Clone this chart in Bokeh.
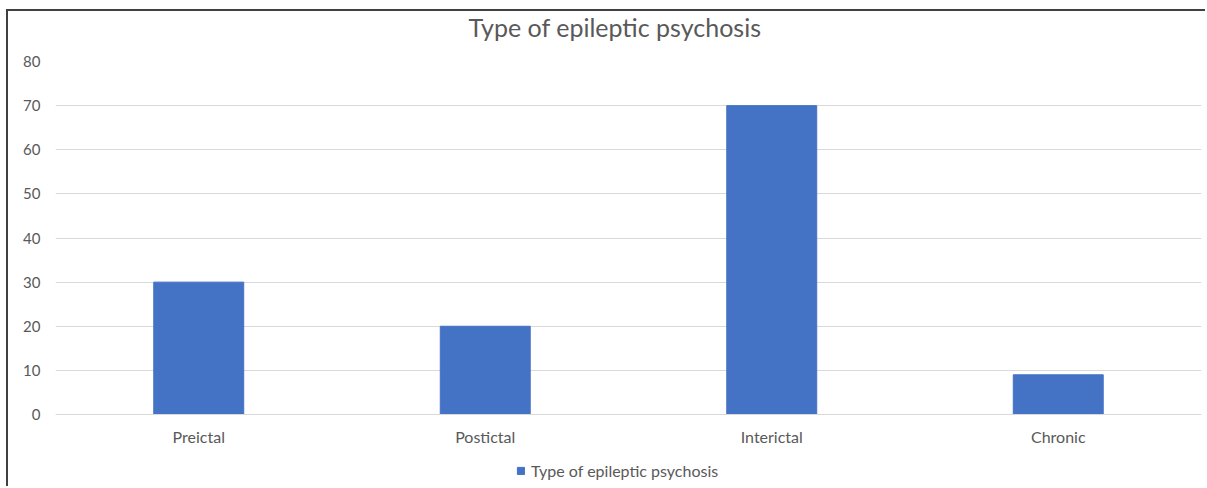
from bokeh.plotting import figure
from bokeh.models import FactorRange, Range1d, Legend, LegendItem, Title, ColumnDataSource
from bokeh.embed import file_html
from bokeh.resources import INLINE

categories = ["Preictal", "Postictal", "Interictal", "Chronic"]
values = [30, 20, 70, 9]
y_ticks = [0, 10, 20, 30, 40, 50, 60, 70, 80]
series_name = "Type of epileptic psychosis"
chart_title = "Type of epileptic psychosis"

FONT = "Lato"
GRAY = "#595959"

src = ColumnDataSource(data=dict(cat=categories, val=values))

p = figure(
    x_range=FactorRange(*categories, range_padding=0),
    y_range=Range1d(-16.77, 80),
    width=1199, height=477,
    output_backend="svg", toolbar_location=None,
    min_border_left=47, min_border_right=6, min_border_top=50, min_border_bottom=0,
    margin=(9, 0, 0, 6),
)
p.styles = {"border-left": "2px solid #404040", "border-top": "2px solid #404040"}
p.outline_line_color = None
p.background_fill_color = "white"
p.border_fill_color = "white"

r = p.vbar(x="cat", top="val", width=0.314, source=src, fill_color="#4472C4", line_color="#4472C4")

spacer = Title(text=" ", text_font=FONT, text_font_size="8px", standoff=6)
p.add_layout(spacer, "above")
t = Title(text=chart_title, align="left", offset=413, text_font=FONT, text_font_size="25px",
          text_color=GRAY, text_font_style="normal", standoff=0, vertical_align="top")
p.add_layout(t, "above")

p.xgrid.grid_line_color = None
p.ygrid.grid_line_color = "#d9d9d9"
p.ygrid.grid_line_width = 1
p.yaxis.ticker = y_ticks
p.yaxis.axis_line_color = None
p.yaxis.major_tick_line_color = None
p.yaxis.minor_tick_line_color = None
p.yaxis.major_tick_out = 0
p.yaxis.major_label_standoff = 15
p.yaxis.major_label_text_font = FONT
p.yaxis.major_label_text_font_size = "15px"
p.yaxis.major_label_text_color = GRAY

p.xaxis.fixed_location = 0
p.xaxis.axis_line_color = "#d9d9d9"
p.xaxis.major_tick_line_color = None
p.xaxis.minor_tick_line_color = None
p.xaxis.major_tick_out = 0
p.xaxis.major_label_standoff = 12
p.xaxis.major_label_text_font = FONT
p.xaxis.major_label_text_font_size = "16px"
p.xaxis.major_label_text_color = GRAY

legend = Legend(items=[LegendItem(label=series_name, renderers=[r])],
                location=(461, 8), orientation="horizontal",
                padding=0, margin=0, border_line_color=None, background_fill_alpha=0,
                glyph_width=9, glyph_height=9, label_height=16, label_standoff=6,
                label_text_font=FONT, label_text_font_size="16px", label_text_color=GRAY)
p.add_layout(legend, "center")

open("out.html", "w").write(file_html(p, INLINE))
